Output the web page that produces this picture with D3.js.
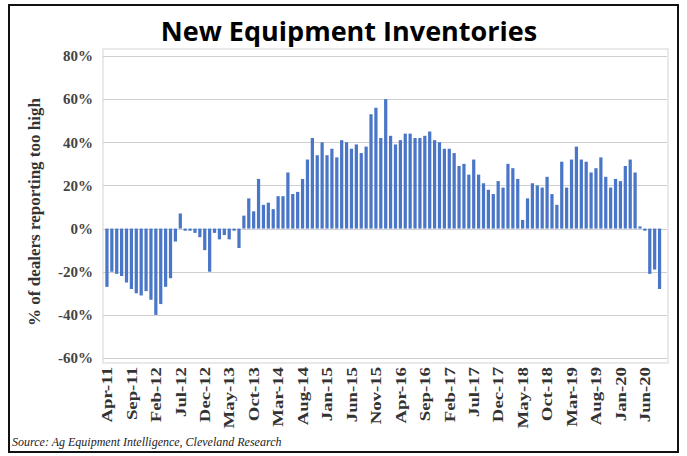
<!DOCTYPE html>
<html><head><meta charset="utf-8">
<script src="https://cdn.jsdelivr.net/npm/d3@7"></script>
<style>body{margin:0;background:#fff}svg{display:block}</style>
</head><body>
<script>
const months = ["Apr-11","May-11","Jun-11","Jul-11","Aug-11","Sep-11","Oct-11","Nov-11","Dec-11",
"Jan-12","Feb-12","Mar-12","Apr-12","May-12","Jun-12","Jul-12","Aug-12","Sep-12","Oct-12","Nov-12","Dec-12",
"Jan-13","Feb-13","Mar-13","Apr-13","May-13","Jun-13","Jul-13","Aug-13","Sep-13","Oct-13","Nov-13","Dec-13",
"Jan-14","Feb-14","Mar-14","Apr-14","May-14","Jun-14","Jul-14","Aug-14","Sep-14","Oct-14","Nov-14","Dec-14",
"Jan-15","Feb-15","Mar-15","Apr-15","May-15","Jun-15","Jul-15","Aug-15","Sep-15","Oct-15","Nov-15","Dec-15",
"Jan-16","Feb-16","Mar-16","Apr-16","May-16","Jun-16","Jul-16","Aug-16","Sep-16","Oct-16","Nov-16","Dec-16",
"Jan-17","Feb-17","Mar-17","Apr-17","May-17","Jun-17","Jul-17","Aug-17","Sep-17","Oct-17","Nov-17","Dec-17",
"Jan-18","Feb-18","Mar-18","Apr-18","May-18","Jun-18","Jul-18","Aug-18","Sep-18","Oct-18","Nov-18","Dec-18",
"Jan-19","Feb-19","Mar-19","Apr-19","May-19","Jun-19","Jul-19","Aug-19","Sep-19","Oct-19","Nov-19","Dec-19",
"Jan-20","Feb-20","Mar-20","Apr-20","May-20","Jun-20","Jul-20","Aug-20","Sep-20"];
const values = [-27,-20,-21,-22,-25,-28,-30,-31,-29,
-33,-40,-35,-27,-23,-6,7,-1,-1,-2,-4,-10,
-20,-2,-5,-3,-5,-1,-9,6,14,8,23,11,
12,9,15,15,26,16,17,23,32,42,34,40,
34,37,33,41,40,37,39,35,38,53,56,42,
60,43,39,41,44,44,42,42,43,45,41,40,
37,37,35,29,30,25,32,25,21,18,16,22,
19,30,28,23,4,14,21,20,19,24,16,11,
31,19,32,38,32,31,26,28,33,24,19,23,
22,29,32,26,1,-1,-21,-19,-28];
const tickLabels = ["Apr-11","Sep-11","Feb-12","Jul-12","Dec-12","May-13","Oct-13","Mar-14","Aug-14","Jan-15","Jun-15","Nov-15",
"Apr-16","Sep-16","Feb-17","Jul-17","Dec-17","May-18","Oct-18","Mar-19","Aug-19","Jan-20","Jun-20"];
const yTicks = [-60,-40,-20,0,20,40,60,80];

const W = 687, H = 456;
const svg = d3.select("body").append("svg").attr("width", W).attr("height", H);
const serif = "'Liberation Serif', 'Times New Roman', serif";

// outer frame
svg.append("rect").attr("x", 9).attr("y", 5).attr("width", 669).attr("height", 447)
  .attr("fill", "#fff").attr("stroke", "#111").attr("stroke-width", 2);

// title
svg.append("text").attr("x", 349).attr("y", 41).attr("text-anchor", "middle")
  .attr("font-family", "'Open Sans', Lato, sans-serif").attr("font-weight", 700)
  .attr("font-size", 27).attr("fill", "#000").text("New Equipment Inventories");

const x = d3.scaleBand().domain(months).range([104.5, 662]).paddingInner(0.34).paddingOuter(0.17);
const y = d3.scaleLinear().domain([-60, 80]).range([358, 56]);

// plot area
svg.append("rect").attr("x", 103).attr("y", 49).attr("width", 565).attr("height", 314)
  .attr("fill", "#fff").attr("stroke", "#e2e2e2").attr("stroke-width", 1.5);

// gridlines
svg.append("g").selectAll("line").data(yTicks).join("line")
  .attr("x1", 103).attr("x2", 667)
  .attr("y1", d => Math.round(y(d)) + 0.5).attr("y2", d => Math.round(y(d)) + 0.5)
  .attr("stroke", "#cfcfcf").attr("stroke-width", 1);

// y axis
const yAxis = d3.axisLeft(y).tickValues(yTicks).tickFormat(d => d + "%").tickSize(0).tickPadding(0);
const gy = svg.append("g").attr("transform", "translate(93,0)").call(yAxis);
gy.select(".domain").remove();
gy.selectAll("text").attr("font-family", serif)
  .attr("font-weight", 700).attr("font-size", 15).attr("fill", "#444");

// bars
svg.append("g").selectAll("rect").data(values).join("rect")
  .attr("x", (d, i) => x(months[i]))
  .attr("width", x.bandwidth())
  .attr("y", d => y(Math.max(0, d)))
  .attr("height", d => Math.abs(y(d) - y(0)))
  .attr("fill", "#4a76c8");

// x axis labels
const xAxis = d3.axisBottom(x).tickValues(tickLabels).tickSize(0).tickPadding(0);
const gx = svg.append("g").attr("transform", "translate(0,367)").call(xAxis);
gx.select(".domain").remove();
gx.selectAll("text")
  .attr("transform", "rotate(-90) scale(1.25,1)")
  .attr("text-anchor", "end").attr("dy", "0.35em").attr("x", 0).attr("y", 0)
  .attr("font-family", serif)
  .attr("font-weight", 700).attr("font-size", 15).attr("fill", "#333");

// y title
svg.append("text").attr("transform", "translate(40,212) rotate(-90)").attr("text-anchor", "middle")
  .attr("font-family", serif).attr("font-weight", 700)
  .attr("font-size", 17).attr("fill", "#333").text("% of dealers reporting too high");

// source
svg.append("text").attr("x", 12).attr("y", 446)
  .attr("font-family", serif).attr("font-style", "italic")
  .attr("font-size", 12).attr("fill", "#222").text("Source: Ag Equipment Intelligence, Cleveland Research");
</script>
</body></html>
